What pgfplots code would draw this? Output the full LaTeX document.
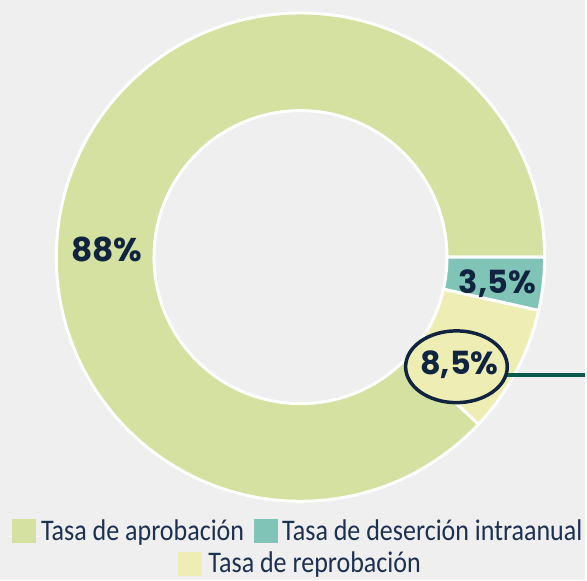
\documentclass[border=0pt]{standalone}
\usepackage{pgfplots}
\pgfplotsset{compat=1.18}
\usepackage{pgfplotstable}
\usepackage{fontspec}
\setmainfont{Carlito}
\newfontfamily\legfont{Carlito}[FakeStretch=0.87]
\newfontfamily\popfont{Poppins}
\definecolor{bg}{HTML}{EFEFEF}
\definecolor{cAp}{HTML}{D4E1A0}
\definecolor{cDe}{HTML}{7FC4B6}
\definecolor{cRe}{HTML}{EEEEB4}
\definecolor{navy}{HTML}{10243F}
\definecolor{legtext}{HTML}{1C3050}
\definecolor{conn}{HTML}{0C5A4C}

\pgfplotstableread{
cat value
aprobacion 88
reprobacion 8.5
desercion 3.5
}\donutdata

\begin{document}
\begin{tikzpicture}
\pgfplotstablegetelem{0}{value}\of\donutdata \let\vAp\pgfplotsretval
\pgfplotstablegetelem{1}{value}\of\donutdata \let\vRe\pgfplotsretval
\pgfplotstablegetelem{2}{value}\of\donutdata \let\vDe\pgfplotsretval
\pgfmathsetmacro\aA{0}
\pgfmathsetmacro\aB{3.6*\vAp}
\pgfmathsetmacro\aC{\aB+3.6*\vRe}
\pgfmathsetmacro\aD{\aC+3.6*\vDe}
\def\cx{301.5}\def\cy{324}\def\Ro{245}\def\Ri{147}
\begin{axis}[x=1pt,y=1pt,xmin=0,xmax=587,ymin=0,ymax=582,
  axis line style={draw=none}, ticks=none,
  axis background/.style={fill=bg}, clip=false]
% donut sectors from the data
\filldraw[fill=cAp, draw=white, line width=3pt, line join=round]
  ([shift={(axis cs:\cx,\cy)}]\aA:\Ro pt) arc[start angle=\aA, end angle=\aB, radius=\Ro pt]
  -- ([shift={(axis cs:\cx,\cy)}]\aB:\Ri pt) arc[start angle=\aB, end angle=\aA, radius=\Ri pt] -- cycle;
\filldraw[fill=cRe, draw=white, line width=3pt, line join=round]
  ([shift={(axis cs:\cx,\cy)}]\aB:\Ro pt) arc[start angle=\aB, end angle=\aC, radius=\Ro pt]
  -- ([shift={(axis cs:\cx,\cy)}]\aC:\Ri pt) arc[start angle=\aC, end angle=\aB, radius=\Ri pt] -- cycle;
\filldraw[fill=cDe, draw=white, line width=3pt, line join=round]
  ([shift={(axis cs:\cx,\cy)}]\aC:\Ro pt) arc[start angle=\aC, end angle=\aD, radius=\Ro pt]
  -- ([shift={(axis cs:\cx,\cy)}]\aD:\Ri pt) arc[start angle=\aD, end angle=\aC, radius=\Ri pt] -- cycle;
% value labels
\node[font=\popfont\bfseries\fontsize{33}{33}\selectfont, text=navy] at (axis cs:107,332) {88\%};
\node[font=\popfont\bfseries\fontsize{32}{32}\selectfont, text=navy] at (axis cs:499,297) {3,5\%};
\draw[conn, line width=4pt] (axis cs:508,206) -- (axis cs:587,206);
\draw[navy, line width=3.5pt, fill=cRe] (axis cs:458,214) ellipse [x radius=51pt, y radius=36pt];
\node[font=\popfont\bfseries\fontsize{32}{32}\selectfont, text=navy] at (axis cs:461,216) {8,5\%};
% legend
\fill[cAp] (axis cs:12,37) rectangle (axis cs:36,61);
\node[anchor=base west, inner sep=0, font=\legfont\fontsize{30}{30}\selectfont, text=legtext] at (axis cs:41,40) {Tasa de aprobación};
\fill[cDe] (axis cs:255,37) rectangle (axis cs:279,61);
\node[anchor=base west, inner sep=0, font=\legfont\fontsize{30}{30}\selectfont, text=legtext] at (axis cs:283,40) {Tasa de deserción intraanual};
\fill[cRe] (axis cs:179,4) rectangle (axis cs:203,28);
\node[anchor=base west, inner sep=0, font=\legfont\fontsize{30}{30}\selectfont, text=legtext] at (axis cs:209,8) {Tasa de reprobación};
\end{axis}
\end{tikzpicture}
\end{document}
